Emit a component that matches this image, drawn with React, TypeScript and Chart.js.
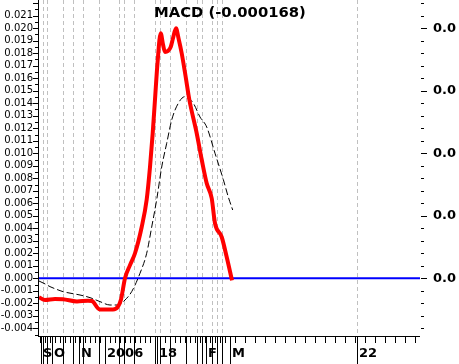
import React, { useEffect, useRef } from "react";
import { Chart, registerables } from "chart.js";

Chart.register(...registerables);

// ---- data ----
const X_MIN = 0;
const X_MAX = 190.5;
const Y_MIN = -0.0047;
const Y_MAX = 0.02226;

const macdIndex = [0, 3, 8, 12, 19, 24.5, 26.5, 29.5, 30.5, 37, 39.5, 41, 43, 45.5, 48, 51.35, 53.85, 55.5, 56.85, 58, 59.25, 60.85, 62, 63, 65.85, 67, 68.5, 69.75, 71.35, 73.35, 75.15, 78.85, 81.35, 83.85, 86.35, 88, 91.35, 93.85, 96.5];
const macdValues = [-0.00152, -0.00174, -0.00166, -0.00168, -0.00186, -0.00179, -0.00182, -0.00241, -0.0025, -0.0025, -0.00227, -0.0017, 0.0, 0.00105, 0.002, 0.0041, 0.0063, 0.0089, 0.0116, 0.0143, 0.0172, 0.0196, 0.0187, 0.0181, 0.0185, 0.0192, 0.02, 0.0192, 0.018, 0.0161, 0.0143, 0.0116, 0.0095, 0.0076, 0.0064, 0.0044, 0.0033, 0.0017, -0.000168];

const signalIndex = [0, 3, 5.5, 9, 12, 16.5, 20.5, 25.5, 30.5, 35.5, 39.5, 43, 46.35, 50.5, 53.85, 56.35, 58.85, 61.35, 63.85, 66.35, 69.65, 73, 77.15, 80.5, 83.85, 88, 92.15, 94.65, 96.85];
const signalValues = [-0.00022, -0.00045, -0.00067, -0.0009, -0.00107, -0.00122, -0.00134, -0.00155, -0.00187, -0.00214, -0.00214, -0.00174, -0.00107, 0.0004, 0.002, 0.0041, 0.0063, 0.0089, 0.0108, 0.01266, 0.014, 0.01453, 0.014, 0.0129, 0.0121, 0.01, 0.0079, 0.0065, 0.00546];

const zeroLevel = 0;

const xLabelPos = [1, 6.5, 20, 33, 59, 83.5, 95.5, 159];
const xLabelText = ["S", "O", "N", "2006", "18", "F", "M", "22"];
const xGridPos = [2, 4, 12, 17, 22, 30, 40, 42.5, 47.5, 58, 60.5, 65.5, 73.5, 79, 81.5, 86.5, 89, 91.5, 159];

const leftTickValues = [-0.004, -0.003, -0.002, -0.001, 0, 0.001, 0.002, 0.003, 0.004, 0.005, 0.006, 0.007, 0.008, 0.009, 0.01, 0.011, 0.012, 0.013, 0.014, 0.015, 0.016, 0.017, 0.018, 0.019, 0.02, 0.021];
const rightTickValues = [0, 0.005, 0.01, 0.015, 0.02];

const FONT = '"DejaVu Sans", Verdana, sans-serif';

const zeroPad = (s: any) => {
  s.paddingTop = 0;
  s.paddingBottom = 0;
  s.paddingLeft = 0;
  s.paddingRight = 0;
};

const decor = {
  id: "decor",
  beforeDatasetsDraw(chart: any) {
    const { ctx, chartArea, scales } = chart;
    const xs = scales.x;
    ctx.save();
    ctx.strokeStyle = "#c0c0c0";
    ctx.lineWidth = 1;
    ctx.setLineDash([4, 3]);
    xGridPos.forEach((g) => {
      const px = Math.round(xs.getPixelForValue(g)) + 0.5;
      ctx.beginPath();
      ctx.moveTo(px, chartArea.top);
      ctx.lineTo(px, chartArea.bottom);
      ctx.stroke();
    });
    ctx.restore();
  },
  afterDraw(chart: any) {
    const { ctx, chartArea, scales } = chart;
    const xs = scales.x;
    const ys = scales.y;
    ctx.save();
    ctx.strokeStyle = "#000";
    ctx.lineWidth = 1;
    ctx.setLineDash([]);
    const L = chartArea.left - 0.5;
    const B = chartArea.bottom - 0.5;
    ctx.beginPath();
    ctx.moveTo(L, chartArea.top);
    ctx.lineTo(L, chartArea.bottom);
    ctx.moveTo(chartArea.left - 1, B);
    ctx.lineTo(chartArea.right, B);
    // left ticks
    for (let i = -10; i <= 45; i++) {
      const v = i * 0.0005;
      if (v < Y_MIN || v > Y_MAX) continue;
      const py = Math.round(ys.getPixelForValue(v)) + 0.5;
      const len = i % 2 === 0 ? 5 : 3;
      ctx.moveTo(chartArea.left - 1 - len, py);
      ctx.lineTo(chartArea.left - 1, py);
    }
    // right ticks
    for (let i = -4; i <= 22; i++) {
      const v = i * 0.001;
      if (v < Y_MIN || v > Y_MAX) continue;
      const py = Math.round(ys.getPixelForValue(v)) + 0.5;
      const len = i % 5 === 0 ? 6 : 3;
      ctx.moveTo(chartArea.right + 1, py);
      ctx.lineTo(chartArea.right + 1 + len, py);
    }
    // x short ticks
    const shortTicks: number[] = [];
    for (let u = 0.5; u < 96; u += 2.5) shortTicks.push(u);
    for (let u = 98; u <= 189; u += 5) shortTicks.push(u);
    shortTicks.forEach((u) => {
      const px = Math.round(xs.getPixelForValue(u)) + 0.5;
      ctx.moveTo(px, chartArea.bottom);
      ctx.lineTo(px, chartArea.bottom + 6);
    });
    // x long ticks
    [...xLabelPos, ...xGridPos].forEach((u) => {
      const px = Math.round(xs.getPixelForValue(u)) + 0.5;
      ctx.moveTo(px, chartArea.bottom);
      ctx.lineTo(px, chart.height);
    });
    ctx.stroke();
    // title
    ctx.fillStyle = "#000";
    ctx.font = `bold 14.8px ${FONT}`;
    ctx.textAlign = "left";
    ctx.textBaseline = "middle";
    const last = macdValues[macdValues.length - 1];
    ctx.fillText(`MACD (${last.toFixed(6)})`, chartArea.left + 115, 13);
    ctx.restore();
  },
};

export default function App() {
  const ref = useRef<HTMLCanvasElement | null>(null);
  useEffect(() => {
    document.body.style.margin = "0";
    const canvas = ref.current;
    if (!canvas) return;
    const chart = new Chart(canvas, {
      type: "line",
      data: {
        datasets: [
          {
            label: "MACD",
            data: macdIndex.map((x, i) => ({ x, y: macdValues[i] })),
            borderColor: "#ff0000",
            borderWidth: 4,
            pointRadius: 0,
            cubicInterpolationMode: "monotone",
            fill: false,
          },
          {
            label: "Signal",
            data: signalIndex.map((x, i) => ({ x, y: signalValues[i] })),
            borderColor: "#000000",
            borderWidth: 1,
            borderDash: [7, 3],
            pointRadius: 0,
            cubicInterpolationMode: "monotone",
            fill: false,
          },
          {
            label: "Zero",
            data: [
              { x: X_MIN, y: zeroLevel },
              { x: X_MAX, y: zeroLevel },
            ],
            borderColor: "#0000ff",
            borderWidth: 2,
            pointRadius: 0,
            fill: false,
          },
        ],
      },
      options: {
        animation: false,
        responsive: false,
        devicePixelRatio: 1,
        layout: { padding: 0, autoPadding: false },
        plugins: {
          legend: { display: false },
          title: { display: false },
          tooltip: { enabled: false },
        },
        scales: {
          x: {
            type: "linear",
            position: "bottom",
            min: X_MIN,
            max: X_MAX,
            grid: { display: false, drawTicks: false },
            border: { display: false },
            afterFit: (s: any) => {
              s.height = 27;
              zeroPad(s);
            },
            afterBuildTicks: (s: any) => {
              s.ticks = xLabelPos.map((v) => ({ value: v }));
            },
            ticks: {
              autoSkip: false,
              maxRotation: 0,
              minRotation: 0,
              align: "start",
              labelOffset: 2,
              padding: 9,
              color: "#000",
              font: { family: FONT, size: 13, weight: "bold" },
              callback: (_v: any, i: number) => xLabelText[i],
            },
          },
          y: {
            type: "linear",
            position: "left",
            min: Y_MIN,
            max: Y_MAX,
            grid: { display: false, drawTicks: false },
            border: { display: false },
            afterFit: (s: any) => {
              s.width = 39;
              zeroPad(s);
            },
            afterBuildTicks: (s: any) => {
              s.ticks = leftTickValues.map((v) => ({ value: v }));
            },
            ticks: {
              autoSkip: false,
              padding: 6,
              color: "#000",
              font: { family: FONT, size: 10 },
              callback: (v: any) => Number(v).toFixed(3),
            },
          },
          y2: {
            type: "linear",
            position: "right",
            min: Y_MIN,
            max: Y_MAX,
            grid: { display: false, drawTicks: false },
            border: { display: false },
            afterFit: (s: any) => {
              s.width = 39;
              zeroPad(s);
            },
            afterBuildTicks: (s: any) => {
              s.ticks = rightTickValues.map((v) => ({ value: v }));
            },
            ticks: {
              autoSkip: false,
              padding: 13,
              color: "#000",
              font: { family: FONT, size: 13, weight: "bold" },
              callback: (v: any) => Number(v).toFixed(1),
            },
          },
        },
      },
      plugins: [decor],
    } as any);
    return () => chart.destroy();
  }, []);
  return (
    <div style={{ width: 459, height: 364, background: "#fff" }}>
      <canvas ref={ref} width={459} height={364} style={{ display: "block" }} />
    </div>
  );
}
